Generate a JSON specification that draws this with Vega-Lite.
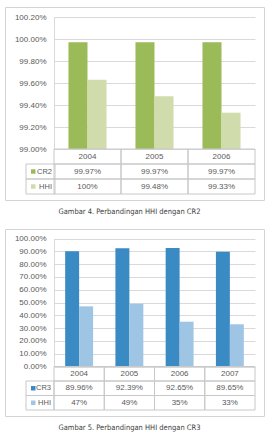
{
  "$schema": "https://vega.github.io/schema/vega-lite/v6.json",
  "padding": {"left": 4, "top": 6, "right": 0, "bottom": 0},
  "background": "white",
  "spacing": 12,
  "datasets": {
    "b1": [
      {"year": "2004", "series": "CR2", "value": 99.97},
      {"year": "2005", "series": "CR2", "value": 99.97},
      {"year": "2006", "series": "CR2", "value": 99.97},
      {"year": "2004", "series": "HHI", "value": 99.63},
      {"year": "2005", "series": "HHI", "value": 99.48},
      {"year": "2006", "series": "HHI", "value": 99.33}
    ],
    "t1": [
      {"year": "2004", "row": "hdr", "label": "2004"},
      {"year": "2005", "row": "hdr", "label": "2005"},
      {"year": "2006", "row": "hdr", "label": "2006"},
      {"year": "2004", "row": "CR2", "label": "99.97%"},
      {"year": "2005", "row": "CR2", "label": "99.97%"},
      {"year": "2006", "row": "CR2", "label": "99.97%"},
      {"year": "2004", "row": "HHI", "label": "100%"},
      {"year": "2005", "row": "HHI", "label": "99.48%"},
      {"year": "2006", "row": "HHI", "label": "99.33%"}
    ],
    "l1": [{"row": "CR2"}, {"row": "HHI"}],
    "b2": [
      {"year": "2004", "series": "CR3", "value": 89.96},
      {"year": "2005", "series": "CR3", "value": 92.39},
      {"year": "2006", "series": "CR3", "value": 92.65},
      {"year": "2007", "series": "CR3", "value": 89.65},
      {"year": "2004", "series": "HHI", "value": 47},
      {"year": "2005", "series": "HHI", "value": 49},
      {"year": "2006", "series": "HHI", "value": 35},
      {"year": "2007", "series": "HHI", "value": 33}
    ],
    "t2": [
      {"year": "2004", "row": "hdr", "label": "2004"},
      {"year": "2005", "row": "hdr", "label": "2005"},
      {"year": "2006", "row": "hdr", "label": "2006"},
      {"year": "2007", "row": "hdr", "label": "2007"},
      {"year": "2004", "row": "CR3", "label": "89.96%"},
      {"year": "2005", "row": "CR3", "label": "92.39%"},
      {"year": "2006", "row": "CR3", "label": "92.65%"},
      {"year": "2007", "row": "CR3", "label": "89.65%"},
      {"year": "2004", "row": "HHI", "label": "47%"},
      {"year": "2005", "row": "HHI", "label": "49%"},
      {"year": "2006", "row": "HHI", "label": "35%"},
      {"year": "2007", "row": "HHI", "label": "33%"}
    ],
    "l2": [{"row": "CR3"}, {"row": "HHI"}]
  },
  "vconcat": [
    {
      "width": 259,
      "height": 193,
      "title": {"text": "Gambar 4. Perbandingan HHI dengan CR2", "orient": "bottom", "anchor": "middle", "offset": 8, "dx": -5},
      "layer": [
        {
          "data": {"name": "b1"},
          "mark": {"type": "bar"},
          "encoding": {
            "x": {"field": "year", "type": "nominal", "axis": null, "scale": {"domain": ["2004", "2005", "2006"], "range": [49, 250], "paddingInner": 0, "paddingOuter": 0}},
            "xOffset": {"field": "series", "type": "nominal", "scale": {"domain": ["CR2", "HHI"], "paddingInner": 0, "paddingOuter": 0.76}},
            "y": {"field": "value", "type": "quantitative", "scale": {"domain": [99, 100.2], "range": [142, 10], "zero": false, "nice": false},
              "axis": {"orient": "left", "offset": -49, "values": [99, 99.2, 99.4, 99.6, 99.8, 100, 100.2], "labelExpr": "format(datum.value, '.2f') + '%'", "title": null, "ticks": false, "domain": true, "domainColor": "#d9d9d9", "grid": true, "gridColor": "#d9d9d9", "labelPadding": 8}},
            "y2": {"datum": 99},
            "color": {"field": "series", "type": "nominal", "legend": null, "scale": {"domain": ["CR2", "HHI"], "range": ["#9bbb59", "#d0dcab"]}}
          }
        },
        {
          "data": {"name": "t1"},
          "mark": {"type": "rect", "fill": "white", "fillOpacity": 0, "stroke": "#c8c8c8", "strokeWidth": 1},
          "encoding": {
            "x": {"field": "year", "type": "nominal", "axis": null, "scale": {"domain": ["2004", "2005", "2006"], "range": [49, 250], "paddingInner": 0, "paddingOuter": 0}},
            "y": {"field": "row", "type": "nominal", "axis": null, "scale": {"domain": ["hdr", "CR2", "HHI"], "range": [142, 187], "paddingInner": 0, "paddingOuter": 0}}
          }
        },
        {
          "data": {"name": "t1"},
          "mark": {"type": "text", "fontSize": 8, "color": "#595959", "baseline": "middle", "align": "center"},
          "encoding": {
            "x": {"field": "year", "type": "nominal", "axis": null, "scale": {"domain": ["2004", "2005", "2006"], "range": [49, 250], "paddingInner": 0, "paddingOuter": 0}},
            "y": {"field": "row", "type": "nominal", "axis": null, "scale": {"domain": ["hdr", "CR2", "HHI"], "range": [142, 187], "paddingInner": 0, "paddingOuter": 0}},
            "text": {"field": "label"}
          }
        },
        {
          "data": {"name": "l1"},
          "mark": {"type": "rect", "fill": "white", "fillOpacity": 0, "stroke": "#c8c8c8", "strokeWidth": 1},
          "encoding": {
            "x": {"datum": "lbl", "type": "nominal", "axis": null, "scale": {"domain": ["lbl"], "range": [21, 50], "paddingInner": 0, "paddingOuter": 0}},
            "y": {"field": "row", "type": "nominal", "axis": null, "scale": {"domain": ["hdr", "CR2", "HHI"], "range": [142, 187], "paddingInner": 0, "paddingOuter": 0}}
          }
        },
        {
          "data": {"name": "l1"},
          "mark": {"type": "point", "shape": "square", "filled": true, "size": 20, "opacity": 1},
          "encoding": {
            "x": {"datum": "sym", "type": "nominal", "axis": null, "scale": {"domain": ["sym", "txt"], "range": [21, 50], "paddingInner": 0, "paddingOuter": 0}},
            "y": {"field": "row", "type": "nominal", "axis": null, "scale": {"domain": ["hdr", "CR2", "HHI"], "range": [142, 187], "paddingInner": 0, "paddingOuter": 0}},
            "color": {"field": "row", "type": "nominal", "legend": null, "scale": {"domain": ["CR2", "HHI"], "range": ["#9bbb59", "#d0dcab"]}}
          }
        },
        {
          "data": {"name": "l1"},
          "mark": {"type": "text", "fontSize": 7.5, "color": "#595959", "baseline": "middle", "align": "right"},
          "encoding": {
            "x": {"datum": "txt", "type": "nominal", "axis": null, "scale": {"domain": ["txt"], "range": [45.5, 48.5], "paddingInner": 0, "paddingOuter": 0}},
            "y": {"field": "row", "type": "nominal", "axis": null, "scale": {"domain": ["hdr", "CR2", "HHI"], "range": [142, 187], "paddingInner": 0, "paddingOuter": 0}},
            "text": {"field": "row"}
          }
        }
      ],
      "resolve": {"scale": {"x": "independent", "y": "independent", "xOffset": "independent", "color": "independent"}}
    },
    {
      "width": 259,
      "height": 187,
      "title": {"text": "Gambar 5. Perbandingan HHI dengan CR3", "orient": "bottom", "anchor": "middle", "offset": 8, "dx": -5},
      "layer": [
        {
          "data": {"name": "b2"},
          "mark": {"type": "bar"},
          "encoding": {
            "x": {"field": "year", "type": "nominal", "axis": null, "scale": {"domain": ["2004", "2005", "2006", "2007"], "range": [49, 250], "paddingInner": 0, "paddingOuter": 0}},
            "xOffset": {"field": "series", "type": "nominal", "scale": {"domain": ["CR3", "HHI"], "paddingInner": 0, "paddingOuter": 0.8}},
            "y": {"field": "value", "type": "quantitative", "scale": {"domain": [0, 100], "range": [137.5, 9.5], "zero": false, "nice": false},
              "axis": {"orient": "left", "offset": -49, "values": [0, 10, 20, 30, 40, 50, 60, 70, 80, 90, 100], "labelExpr": "format(datum.value, '.2f') + '%'", "title": null, "ticks": false, "domain": true, "domainColor": "#d9d9d9", "grid": true, "gridColor": "#d9d9d9", "labelPadding": 8}},
            "y2": {"datum": 0},
            "color": {"field": "series", "type": "nominal", "legend": null, "scale": {"domain": ["CR3", "HHI"], "range": ["#3a8ac4", "#9fc5e5"]}}
          }
        },
        {
          "data": {"name": "t2"},
          "mark": {"type": "rect", "fill": "white", "fillOpacity": 0, "stroke": "#c8c8c8", "strokeWidth": 1},
          "encoding": {
            "x": {"field": "year", "type": "nominal", "axis": null, "scale": {"domain": ["2004", "2005", "2006", "2007"], "range": [49, 250], "paddingInner": 0, "paddingOuter": 0}},
            "y": {"field": "row", "type": "nominal", "axis": null, "scale": {"domain": ["hdr", "CR3", "HHI"], "range": [137.5, 181], "paddingInner": 0, "paddingOuter": 0}}
          }
        },
        {
          "data": {"name": "t2"},
          "mark": {"type": "text", "fontSize": 8, "color": "#595959", "baseline": "middle", "align": "center"},
          "encoding": {
            "x": {"field": "year", "type": "nominal", "axis": null, "scale": {"domain": ["2004", "2005", "2006", "2007"], "range": [49, 250], "paddingInner": 0, "paddingOuter": 0}},
            "y": {"field": "row", "type": "nominal", "axis": null, "scale": {"domain": ["hdr", "CR3", "HHI"], "range": [137.5, 181], "paddingInner": 0, "paddingOuter": 0}},
            "text": {"field": "label"}
          }
        },
        {
          "data": {"name": "l2"},
          "mark": {"type": "rect", "fill": "white", "fillOpacity": 0, "stroke": "#c8c8c8", "strokeWidth": 1},
          "encoding": {
            "x": {"datum": "lbl", "type": "nominal", "axis": null, "scale": {"domain": ["lbl"], "range": [21, 49], "paddingInner": 0, "paddingOuter": 0}},
            "y": {"field": "row", "type": "nominal", "axis": null, "scale": {"domain": ["hdr", "CR3", "HHI"], "range": [137.5, 181], "paddingInner": 0, "paddingOuter": 0}}
          }
        },
        {
          "data": {"name": "l2"},
          "mark": {"type": "point", "shape": "square", "filled": true, "size": 20, "opacity": 1},
          "encoding": {
            "x": {"datum": "sym", "type": "nominal", "axis": null, "scale": {"domain": ["sym", "txt"], "range": [21, 50], "paddingInner": 0, "paddingOuter": 0}},
            "y": {"field": "row", "type": "nominal", "axis": null, "scale": {"domain": ["hdr", "CR3", "HHI"], "range": [137.5, 181], "paddingInner": 0, "paddingOuter": 0}},
            "color": {"field": "row", "type": "nominal", "legend": null, "scale": {"domain": ["CR3", "HHI"], "range": ["#3a8ac4", "#9fc5e5"]}}
          }
        },
        {
          "data": {"name": "l2"},
          "mark": {"type": "text", "fontSize": 7.5, "color": "#595959", "baseline": "middle", "align": "right"},
          "encoding": {
            "x": {"datum": "txt", "type": "nominal", "axis": null, "scale": {"domain": ["txt"], "range": [44.5, 47.5], "paddingInner": 0, "paddingOuter": 0}},
            "y": {"field": "row", "type": "nominal", "axis": null, "scale": {"domain": ["hdr", "CR3", "HHI"], "range": [137.5, 181], "paddingInner": 0, "paddingOuter": 0}},
            "text": {"field": "row"}
          }
        }
      ],
      "resolve": {"scale": {"x": "independent", "y": "independent", "xOffset": "independent", "color": "independent"}}
    }
  ],
  "config": {
    "font": "Liberation Sans",
    "view": {"stroke": "#d4d4d4", "strokeWidth": 1},
    "axis": {"labelFont": "Liberation Sans", "labelFontSize": 8, "labelColor": "#595959"},
    "title": {"font": "DejaVu Sans Condensed, Liberation Sans", "fontSize": 7.5, "fontWeight": "normal", "color": "#404040"}
  }
}
